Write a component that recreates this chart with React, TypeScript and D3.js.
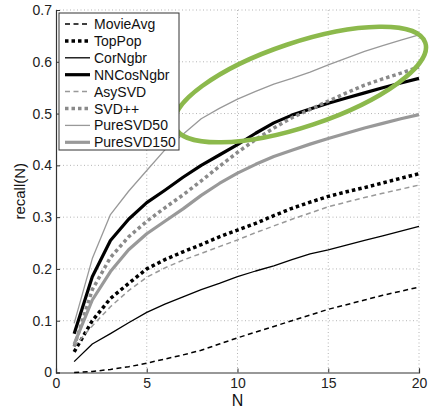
import { useEffect, useRef } from 'react'
import * as d3 from 'd3'

// top-N values, N = 1..20
const N = [1, 2, 3, 4, 5, 6, 7, 8, 9, 10, 11, 12, 13, 14, 15, 16, 17, 18, 19, 20]

const movieAvg = [0.0, 0.002, 0.006, 0.011, 0.018, 0.026, 0.034, 0.043, 0.055, 0.067, 0.078, 0.089, 0.1, 0.111, 0.122, 0.131, 0.14, 0.149, 0.157, 0.165]
const topPop = [0.04, 0.1, 0.143, 0.172, 0.2, 0.218, 0.233, 0.247, 0.262, 0.275, 0.288, 0.303, 0.317, 0.329, 0.34, 0.349, 0.357, 0.366, 0.375, 0.384]
const corNgbr = [0.021, 0.055, 0.075, 0.096, 0.116, 0.132, 0.146, 0.16, 0.172, 0.185, 0.196, 0.206, 0.218, 0.229, 0.237, 0.246, 0.255, 0.264, 0.273, 0.282]
const nnCosNgbr = [0.075, 0.185, 0.255, 0.296, 0.328, 0.352, 0.377, 0.4, 0.42, 0.44, 0.462, 0.482, 0.497, 0.509, 0.52, 0.53, 0.54, 0.55, 0.559, 0.568]
const asySVD = [0.05, 0.09, 0.127, 0.158, 0.184, 0.202, 0.217, 0.23, 0.243, 0.256, 0.27, 0.283, 0.296, 0.308, 0.32, 0.329, 0.338, 0.346, 0.354, 0.362]
const svdpp = [0.05, 0.16, 0.222, 0.262, 0.292, 0.318, 0.343, 0.37, 0.398, 0.425, 0.45, 0.472, 0.492, 0.508, 0.524, 0.54, 0.555, 0.567, 0.578, 0.59]
const pureSVD50 = [0.095, 0.22, 0.305, 0.35, 0.39, 0.43, 0.46, 0.49, 0.51, 0.528, 0.543, 0.557, 0.568, 0.58, 0.594, 0.607, 0.62, 0.631, 0.642, 0.652]
const pureSVD150 = [0.055, 0.14, 0.195, 0.237, 0.268, 0.292, 0.316, 0.342, 0.365, 0.385, 0.402, 0.417, 0.429, 0.441, 0.452, 0.462, 0.472, 0.481, 0.49, 0.498]

const xTicks = [0, 5, 10, 15, 20]
const yTicks = [0, 0.1, 0.2, 0.3, 0.4, 0.5, 0.6, 0.7]

const series = [
  { name: 'MovieAvg', values: movieAvg, color: '#000', width: 1.5, dash: '5,3.5' },
  { name: 'TopPop', values: topPop, color: '#000', width: 3.5, dash: '3.5,3' },
  { name: 'CorNgbr', values: corNgbr, color: '#000', width: 1.3, dash: null },
  { name: 'NNCosNgbr', values: nnCosNgbr, color: '#000', width: 3.2, dash: null },
  { name: 'AsySVD', values: asySVD, color: '#999', width: 1.5, dash: '5,3.5' },
  { name: 'SVD++', values: svdpp, color: '#8a8a8a', width: 3.5, dash: '3.5,3' },
  { name: 'PureSVD50', values: pureSVD50, color: '#999', width: 1.3, dash: null },
  { name: 'PureSVD150', values: pureSVD150, color: '#999', width: 3.2, dash: null },
]

const App = () => {
  const chart = useRef<HTMLDivElement>(null)

  const drawChart = () => {
    const margin = { top: 10, right: 14, bottom: 46.5, left: 56 },
      width = 433 - margin.left - margin.right,
      height = 419 - margin.top - margin.bottom

    d3.select(chart.current).selectAll('*').remove()

    const root = d3.select(chart.current)
      .append('svg')
      .attr('width', 433)
      .attr('height', 419)
      .style('position', 'absolute')
      .style('left', 0)
      .style('top', 0)
      .style('background', '#fff')
      .style('font-family', 'Liberation Sans, Arial, sans-serif')

    const svg = root.append('g')
      .attr('transform', 'translate(' + margin.left + ',' + margin.top + ')')

    const x = d3.scaleLinear().domain([0, 20]).range([0, width])
    const y = d3.scaleLinear().domain([0, 0.7]).range([height, 0])

    // dotted grid
    svg.append('g')
      .selectAll('line.gx')
      .data(xTicks.slice(1))
      .enter()
      .append('line')
      .attr('x1', d => x(d)).attr('x2', d => x(d))
      .attr('y1', 0).attr('y2', height)
      .attr('stroke', '#b5b5b5').attr('stroke-width', 1)
      .attr('stroke-dasharray', '1,2.5')
    svg.append('g')
      .selectAll('line.gy')
      .data(yTicks.slice(1))
      .enter()
      .append('line')
      .attr('x1', 0).attr('x2', width)
      .attr('y1', d => y(d)).attr('y2', d => y(d))
      .attr('stroke', '#b5b5b5').attr('stroke-width', 1)
      .attr('stroke-dasharray', '1,2.5')

    // axes
    const xAxis = svg.append('g')
      .attr('transform', 'translate(0,' + height + ')')
      .call(d3.axisBottom(x).tickValues(xTicks).tickSize(-4).tickPadding(7).tickFormat(d3.format('d')))
    const yAxis = svg.append('g')
      .call(d3.axisLeft(y).tickValues(yTicks).tickSize(-4).tickPadding(4).tickFormat(d => d === 0 ? '0' : d3.format('.1f')(d as number)))
    ;[xAxis, yAxis].forEach(a => {
      a.select('.domain').attr('stroke', '#333').attr('stroke-width', 1.2)
      a.selectAll('.tick line').attr('stroke', '#333')
      a.selectAll('.tick text').attr('fill', '#222').style('font-size', '14px').style('font-family', 'Liberation Sans, Arial, sans-serif')
    })
    xAxis.selectAll('.tick text').attr('dy', '0.6em')

    // lines
    const line = d3.line<number>()
      .x((_, i) => x(N[i]))
      .y(d => y(d))

    series.forEach(s => {
      svg.append('path')
        .datum(s.values)
        .attr('fill', 'none')
        .attr('stroke', s.color)
        .attr('stroke-width', s.width)
        .attr('stroke-dasharray', s.dash)
        .attr('stroke-linejoin', 'round')
        .attr('d', line)
    })

    // highlight ellipse
    svg.append('ellipse')
      .attr('cx', 0).attr('cy', 0)
      .attr('rx', 132).attr('ry', 42)
      .attr('transform', 'translate(' + x(13.45) + ',' + y(0.556) + ') rotate(-18.5)')
      .attr('fill', 'none')
      .attr('stroke', '#8cb94c')
      .attr('stroke-width', 4.5)

    // legend
    const legend = svg.append('g').attr('transform', 'translate(3,3)')
    legend.append('rect')
      .attr('width', 120).attr('height', 137)
      .attr('fill', '#fff').attr('stroke', '#333').attr('stroke-width', 1)
    series.forEach((s, i) => {
      const ly = 11 + i * 16.9
      legend.append('line')
        .attr('x1', 6).attr('x2', 31)
        .attr('y1', ly).attr('y2', ly)
        .attr('stroke', s.color)
        .attr('stroke-width', s.width)
        .attr('stroke-dasharray', s.dash)
      legend.append('text')
        .attr('x', 35).attr('y', ly + 5)
        .attr('fill', '#111')
        .style('font-size', '14px')
        .text(s.name)
    })

    // axis labels
    svg.append('text')
      .attr('x', width / 2).attr('y', height + 33)
      .attr('text-anchor', 'middle')
      .style('font-size', '16px')
      .attr('fill', '#111')
      .text('N')
    svg.append('text')
      .attr('transform', 'translate(' + (-31) + ',' + (height / 2) + ') rotate(-90)')
      .attr('text-anchor', 'middle')
      .style('font-size', '15px')
      .attr('fill', '#111')
      .text('recall(N)')
  }

  useEffect(() => {
    drawChart()
  }, [])

  return (
    <>
      <div ref={chart} className='chart'></div>
    </>
  )
}

export default App
